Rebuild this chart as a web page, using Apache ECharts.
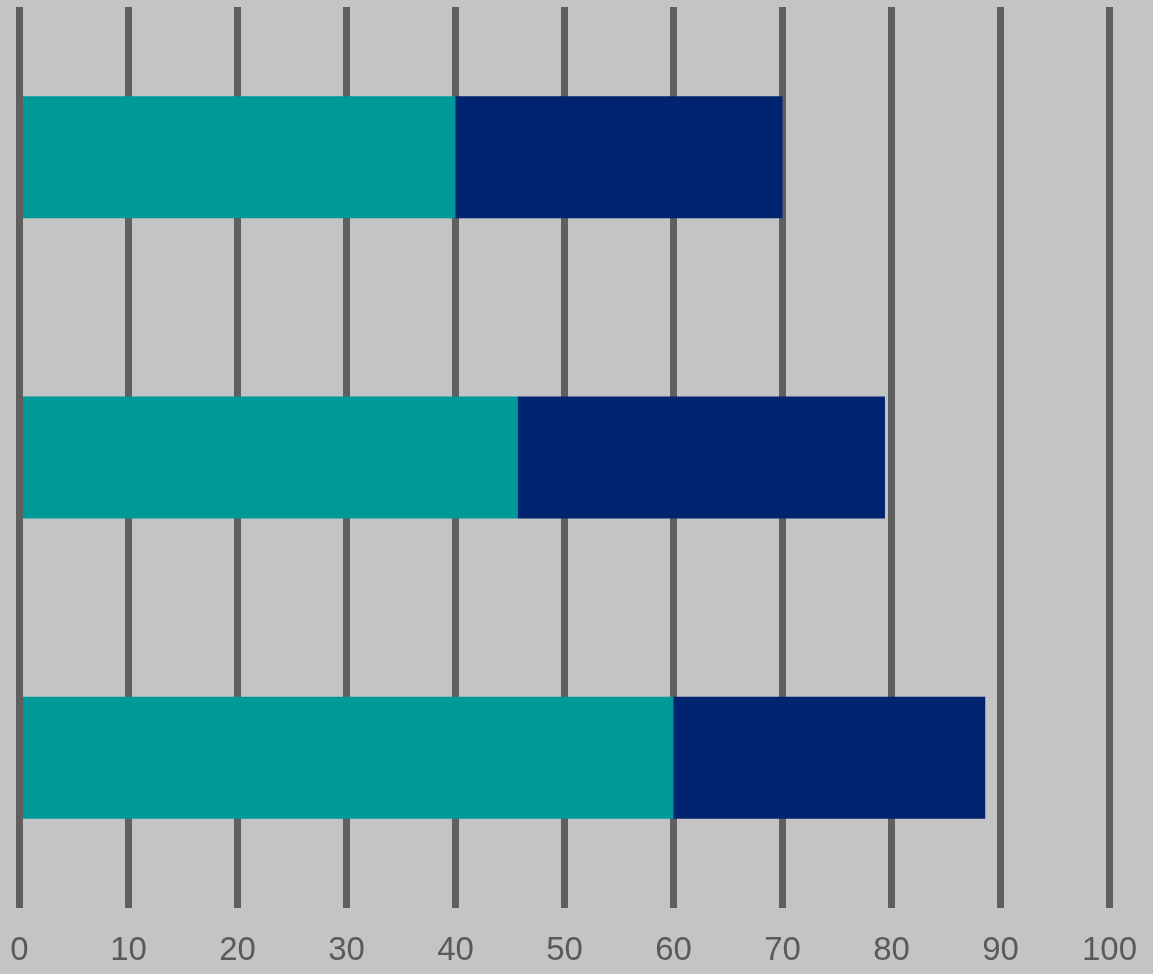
<!DOCTYPE html>
<html>
<head>
<meta charset="utf-8">
<script src="https://cdn.jsdelivr.net/npm/echarts@6/dist/echarts.min.js"></script>
<style>
  html, body { margin: 0; padding: 0; background: #c4c4c4; }
  #chart { width: 1153px; height: 974px; }
</style>
</head>
<body>
<div id="chart"></div>
<script>
// Three horizontal stacked bars, first category at the top
const categories = ['A', 'B', 'C'];
const seriesFirst = [40, 45.7, 60];
const seriesSecond = [30, 33.7, 28.6];
const xTicks = { min: 0, max: 100, interval: 10 };

const chart = echarts.init(document.getElementById('chart'), null, { renderer: 'canvas' });

chart.setOption({
  backgroundColor: '#c4c4c4',
  animation: false,
  grid: { left: 19.5, right: 43.5, top: 7, bottom: 66, containLabel: false },
  xAxis: {
    type: 'value',
    min: xTicks.min,
    max: xTicks.max,
    interval: xTicks.interval,
    axisLine: { show: false },
    axisTick: { show: false },
    splitLine: { show: true, lineStyle: { color: '#5f5f5f', width: 7 } },
    axisLabel: {
      margin: 26,
      color: '#5a5a5a',
      fontSize: 33,
      fontFamily: 'Liberation Sans, Arial, sans-serif'
    }
  },
  yAxis: {
    type: 'category',
    data: categories,
    inverse: true,
    z: 3,
    axisLine: { show: true, lineStyle: { color: '#5f5f5f', width: 7, cap: 'butt' } },
    axisTick: { show: false },
    axisLabel: { show: false },
    splitLine: { show: false }
  },
  series: [
    {
      type: 'bar',
      stack: 'total',
      data: seriesFirst,
      barWidth: 122,
      itemStyle: { color: '#009999' }
    },
    {
      type: 'bar',
      stack: 'total',
      data: seriesSecond,
      barWidth: 122,
      itemStyle: { color: '#002470' }
    }
  ]
});
</script>
</body>
</html>
